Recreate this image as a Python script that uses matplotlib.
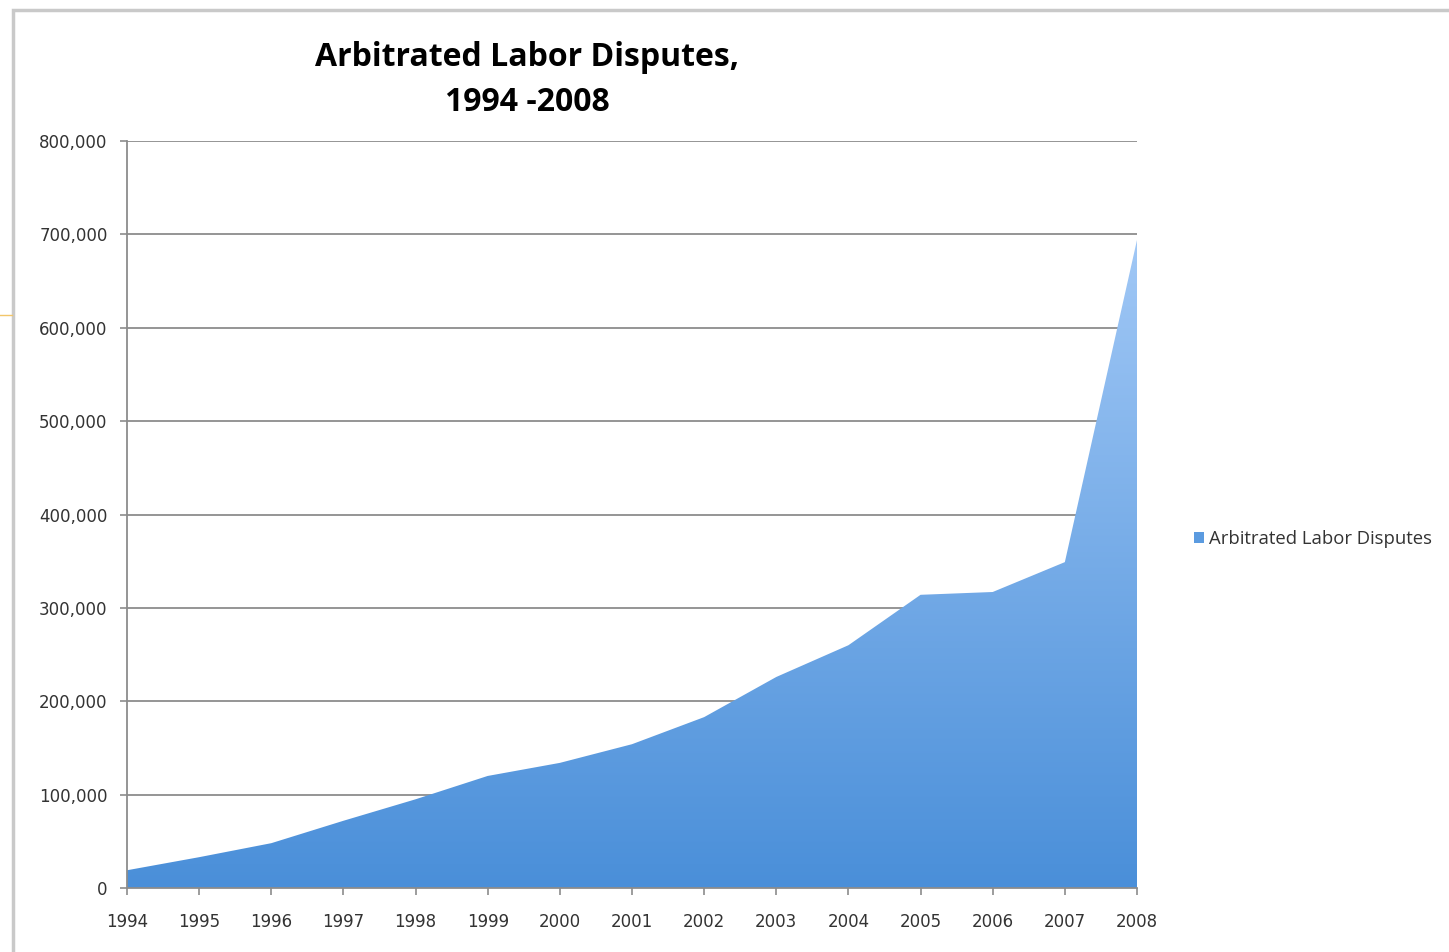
import numpy as np
import matplotlib.pyplot as plt
from matplotlib.patches import Rectangle, Patch
from matplotlib.lines import Line2D
from matplotlib.colors import LinearSegmentedColormap
from matplotlib.ticker import FuncFormatter

years = [1994, 1995, 1996, 1997, 1998, 1999, 2000, 2001, 2002, 2003, 2004, 2005, 2006, 2007, 2008]
disputes = [19000, 33000, 48000, 72000, 95000, 120000, 134000, 154000, 183000, 226000,
            260000, 314000, 317000, 349000, 694000]
yticks = [0, 100000, 200000, 300000, 400000, 500000, 600000, 700000, 800000]
title = "Arbitrated Labor Disputes,\n1994 -2008"
series_name = "Arbitrated Labor Disputes"

plt.rcParams['font.family'] = ['Open Sans', 'DejaVu Sans']

fig = plt.figure(figsize=(14.49, 9.52), dpi=100)
ax = fig.add_axes([127 / 1449, 1 - 888 / 952, (1137 - 127) / 1449, (888 - 141) / 952])

# gridlines
for t in yticks[1:]:
    ax.axhline(t, color="#8c8c8c", lw=1.3, zorder=1)

# gradient filled area
cmap = LinearSegmentedColormap.from_list("blues", ["#4a8fd9", "#a4caf7"])
grad = np.linspace(0, 1, 256).reshape(-1, 1)
poly = ax.fill_between(years, disputes, 0, color="none", lw=0)
img = ax.imshow(grad, cmap=cmap, origin="lower", aspect="auto",
                extent=[years[0], years[-1], 0, 720000], zorder=2)
img.set_clip_path(poly.get_paths()[0], transform=ax.transData)

ax.set_xlim(years[0], years[-1])
ax.set_ylim(0, 800000)
ax.set_xticks(years)
ax.set_yticks(yticks)
ax.yaxis.set_major_formatter(FuncFormatter(lambda v, p: f"{int(v):,}"))

for s in ["top", "right"]:
    ax.spines[s].set_visible(False)
for s in ["left", "bottom"]:
    ax.spines[s].set_color("#8c8c8c")
    ax.spines[s].set_linewidth(1.3)
    ax.spines[s].set_zorder(3)
ax.tick_params(axis="both", direction="out", length=5, width=1.2, color="#8c8c8c",
               labelsize=12, labelcolor="#333333")
ax.tick_params(axis="y", pad=9)
ax.tick_params(axis="x", pad=13)
for lbl in ax.get_xticklabels() + ax.get_yticklabels():
    lbl.set_fontfamily("DejaVu Sans")

fig.text(527 / 1449, 1 - 80 / 952, title, ha="center", va="center",
         fontsize=23, fontweight="bold", linespacing=1.5)

# legend
leg = fig.legend(handles=[Patch(facecolor="#5b9be0", edgecolor="none", label=series_name)],
                 loc="center left", bbox_to_anchor=(1177 / 1449, 1 - 539 / 952),
                 frameon=False, fontsize=13.3, handlelength=0.55, handleheight=0.55,
                 handletextpad=0.3)
for t in leg.get_texts():
    t.set_color("#333333")

# outer chart border and small orange mark
fig.patches.append(Rectangle((13 / 1449, -0.1), 1.2, 1 - 10 / 952 + 0.1,
                             transform=fig.transFigure, fill=False,
                             edgecolor="#c9c9c9", lw=2.5))
fig.lines.append(Line2D([0, 12 / 1449], [1 - 315 / 952] * 2, transform=fig.transFigure,
                        color="#f2c66a", lw=1))

fig.savefig("out.png", dpi=100, facecolor="white")
